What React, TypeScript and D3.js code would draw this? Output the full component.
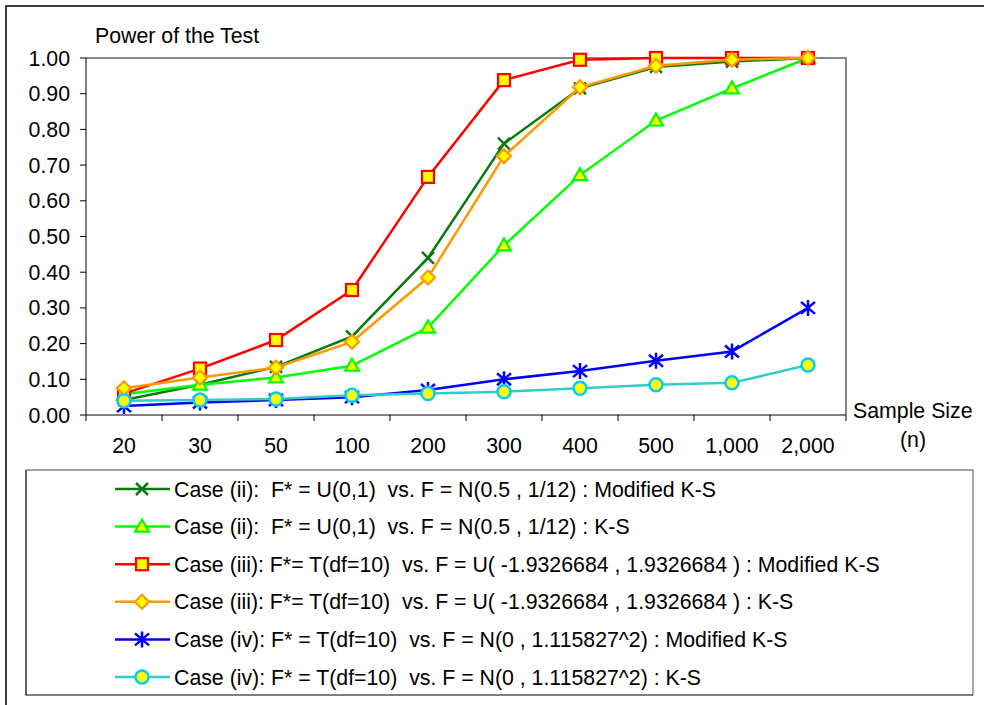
import React from 'react';
import * as d3 from 'd3';

const sampleSizes = ['20', '30', '50', '100', '200', '300', '400', '500', '1,000', '2,000'];
const yTicks = [0, 0.1, 0.2, 0.3, 0.4, 0.5, 0.6, 0.7, 0.8, 0.9, 1.0];

const caseIiModified = [0.042, 0.085, 0.135, 0.22, 0.44, 0.76, 0.915, 0.975, 0.99, 1.0];
const caseIiKS = [0.058, 0.085, 0.105, 0.138, 0.245, 0.475, 0.672, 0.825, 0.915, 1.0];
const caseIiiModified = [0.06, 0.13, 0.21, 0.35, 0.667, 0.938, 0.995, 1.0, 1.0, 1.0];
const caseIiiKS = [0.075, 0.105, 0.133, 0.205, 0.385, 0.725, 0.918, 0.978, 0.995, 1.0];
const caseIvModified = [0.025, 0.035, 0.042, 0.05, 0.07, 0.1, 0.123, 0.152, 0.178, 0.3];
const caseIvKS = [0.04, 0.042, 0.045, 0.055, 0.06, 0.065, 0.075, 0.085, 0.09, 0.14];

const seriesLabels = [
  'Case (ii):  F* = U(0,1)  vs. F = N(0.5 , 1/12) : Modified K-S',
  'Case (ii):  F* = U(0,1)  vs. F = N(0.5 , 1/12) : K-S',
  'Case (iii): F*= T(df=10)  vs. F = U( -1.9326684 , 1.9326684 ) : Modified K-S',
  'Case (iii): F*= T(df=10)  vs. F = U( -1.9326684 , 1.9326684 ) : K-S',
  'Case (iv): F* = T(df=10)  vs. F = N(0 , 1.115827^2) : Modified K-S',
  'Case (iv): F* = T(df=10)  vs. F = N(0 , 1.115827^2) : K-S',
];

type MarkerKind = 'x' | 'triangle' | 'square' | 'diamond' | 'star' | 'circle';

const series: { values: number[]; line: string; stroke: string; marker: MarkerKind }[] = [
  { values: caseIiModified, line: '#0a7a0a', stroke: '#0a7a0a', marker: 'x' },
  { values: caseIiKS, line: '#00ff00', stroke: '#00ff00', marker: 'triangle' },
  { values: caseIiiModified, line: '#ff0000', stroke: '#ff0000', marker: 'square' },
  { values: caseIiiKS, line: '#ff9900', stroke: '#ff9900', marker: 'diamond' },
  { values: caseIvModified, line: '#0000ff', stroke: '#0000ff', marker: 'star' },
  { values: caseIvKS, line: '#33cccc', stroke: '#00ccff', marker: 'circle' },
];

const FONT = 'Arial, "Liberation Sans", sans-serif';
const FS = 21.3;

const Marker: React.FC<{ kind: MarkerKind; x: number; y: number; color: string }> = ({ kind, x, y, color }) => {
  const fill = '#ffff00';
  switch (kind) {
    case 'x':
      return (
        <path d={`M${x - 6},${y - 6}L${x + 6},${y + 6}M${x - 6},${y + 6}L${x + 6},${y - 6}`} stroke={color} strokeWidth={2.5} fill="none" />
      );
    case 'triangle':
      return (
        <path d={`M${x},${y - 7}L${x + 7},${y + 5}L${x - 7},${y + 5}Z`} stroke={color} strokeWidth={2.2} fill={fill} />
      );
    case 'square':
      return <rect x={x - 6} y={y - 6} width={12} height={12} stroke={color} strokeWidth={2.2} fill={fill} />;
    case 'diamond':
      return (
        <path d={`M${x},${y - 7}L${x + 7},${y}L${x},${y + 7}L${x - 7},${y}Z`} stroke={color} strokeWidth={2.2} fill={fill} />
      );
    case 'star':
      return (
        <path
          d={`M${x},${y - 8}L${x},${y + 8}M${x - 7},${y - 6}L${x + 7},${y + 6}M${x - 7},${y + 6}L${x + 7},${y - 6}`}
          stroke={color}
          strokeWidth={2.5}
          fill="none"
        />
      );
    default:
      return <circle cx={x} cy={y} r={6.5} stroke={color} strokeWidth={2.5} fill={fill} />;
  }
};

const App: React.FC = () => {
  const width = 984;
  const height = 705;
  const plot = { left: 86, right: 846, top: 58, bottom: 415 };

  const x = d3.scaleBand<string>().domain(sampleSizes).range([plot.left, plot.right]);
  const y = d3.scaleLinear().domain([0, 1]).range([plot.bottom, plot.top]);
  const cx = (i: number) => (x(sampleSizes[i]) ?? 0) + x.bandwidth() / 2;

  const line = d3
    .line<number>()
    .x((_, i) => cx(i))
    .y(d => y(d));

  const boundaries = sampleSizes.map(s => x(s) ?? 0).concat([plot.right]);

  const legend = { left: 26, top: 470, right: 973, bottom: 695, rowStart: 489, rowStep: 37.6 };

  return (
    <svg
      width={width}
      height={height}
      style={{ position: 'absolute', left: 0, top: 0, background: '#fff', fontFamily: FONT }}
    >
      <rect x={0} y={0} width={width} height={height} fill="#fff" />
      {/* outer frame */}
      <path d={`M6,${height}V6H${width}`} stroke="#000" strokeWidth={1.5} fill="none" />

      {/* plot frame: grey top/right */}
      <path d={`M${plot.left},${plot.top}H${plot.right}V${plot.bottom}`} stroke="#888" strokeWidth={2} fill="none" />

      {/* y axis */}
      <line x1={plot.left} x2={plot.left} y1={plot.top} y2={plot.bottom} stroke="#000" strokeWidth={1} />
      {yTicks.map(t => (
        <g key={t}>
          <line x1={plot.left - 6} x2={plot.left} y1={y(t)} y2={y(t)} stroke="#000" />
          <text x={70} y={y(t) + 7.5} textAnchor="end" fontSize={FS} fill="#000">
            {d3.format('.2f')(t)}
          </text>
        </g>
      ))}

      {/* x axis */}
      <line x1={plot.left} x2={plot.right} y1={plot.bottom} y2={plot.bottom} stroke="#000" strokeWidth={1} />
      {boundaries.map((b, i) => (
        <line key={i} x1={b} x2={b} y1={plot.bottom} y2={plot.bottom + 6} stroke="#000" />
      ))}
      {sampleSizes.map((s, i) => (
        <text key={s} x={cx(i)} y={453} textAnchor="middle" fontSize={FS} fill="#000">
          {s}
        </text>
      ))}

      <text x={95} y={43} fontSize={FS} fill="#000">Power of the Test</text>
      <text x={853} y={418} fontSize={FS} fill="#000">Sample Size</text>
      <text x={913} y={447} textAnchor="middle" fontSize={FS} fill="#000">(n)</text>

      {/* series */}
      {series.map((s, si) => (
        <g key={si}>
          <path d={line(s.values) ?? ''} stroke={s.line} strokeWidth={2.5} fill="none" />
          {s.values.map((v, i) => (
            <Marker key={i} kind={s.marker} x={cx(i)} y={y(v)} color={s.stroke} />
          ))}
        </g>
      ))}

      {/* legend */}
      <path d={`M${legend.left},${legend.top}H${legend.right}V${legend.bottom}`} stroke="#888" strokeWidth={1.5} fill="none" />
      <path d={`M${legend.left},${legend.top}V${legend.bottom}H${legend.right}`} stroke="#000" strokeWidth={1.2} fill="none" />
      {series.map((s, si) => {
        const ry = legend.rowStart + si * legend.rowStep;
        return (
          <g key={si}>
            <line x1={115} x2={170} y1={ry} y2={ry} stroke={s.line} strokeWidth={2.5} />
            <Marker kind={s.marker} x={142} y={ry} color={s.stroke} />
            <text x={174} y={ry + 7.5} fontSize={FS} fill="#000" style={{ whiteSpace: 'pre' }}>
              {seriesLabels[si]}
            </text>
          </g>
        );
      })}
    </svg>
  );
};

export default App;
